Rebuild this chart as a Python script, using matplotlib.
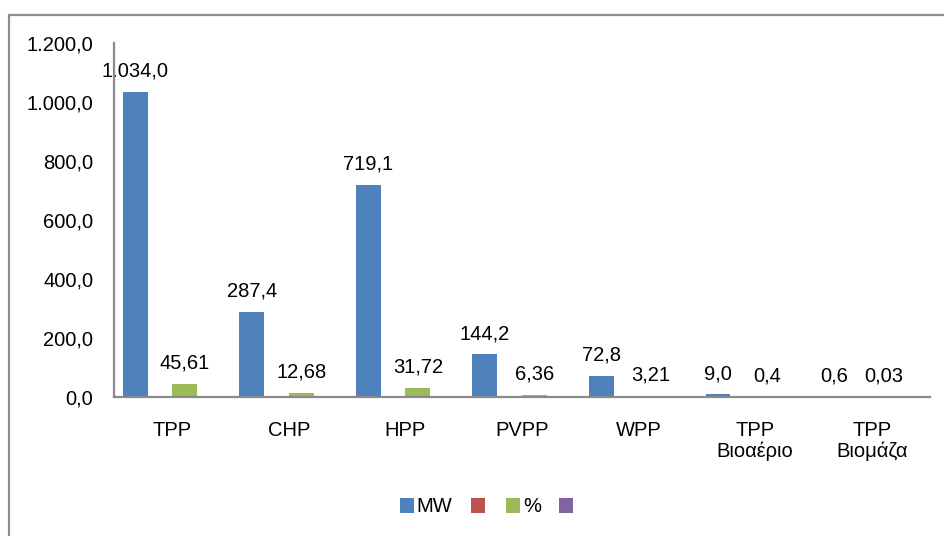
import matplotlib
matplotlib.use("Agg")
import matplotlib.pyplot as plt
from matplotlib.patches import Rectangle, Patch
import numpy as np

categories = ["TPP", "CHP", "HPP", "PVPP", "WPP", "TPP\nΒιοαέριο", "TPP\nΒιομάζα"]
mw_values = [1034.0, 287.4, 719.1, 144.2, 72.8, 9.0, 0.6]
pct_values = [45.61, 12.68, 31.72, 6.36, 3.21, 0.4, 0.03]
red_values = [0, 0, 0, 0, 0, 0, 0]
purple_values = [0, 0, 0, 0, 0, 0, 0]
series_names = ["MW", "", "%", ""]
colors = ["#4F81BD", "#C0504D", "#9BBB59", "#8064A2"]
yticks = [0, 200, 400, 600, 800, 1000, 1200]

plt.rcParams['font.family'] = ['Liberation Sans', 'DejaVu Sans']
FS = 14.5

W, H = 945, 536
fig = plt.figure(figsize=(W / 100, H / 100), dpi=100)
ax = fig.add_axes([114 / W, 1 - 397 / H, (930 - 114) / W, (397 - 43) / H])

x = np.arange(len(categories))
bw = 0.2125
series = [mw_values, red_values, pct_values, purple_values]
bars = []
for i, (vals, c) in enumerate(zip(series, colors)):
    off = (i - 1.5) * bw
    b = ax.bar(x + off, vals, width=bw, color=c, edgecolor='none', zorder=2)
    bars.append(b)

def fmt_mw(v):
    s = f"{v:,.1f}"
    return s.replace(",", "X").replace(".", ",").replace("X", ".")

def fmt_pct(v):
    return f"{v:g}".replace(".", ",")

for rect, v in zip(bars[0], mw_values):
    ax.annotate(fmt_mw(v), (rect.get_x() + rect.get_width() / 2, v),
                xytext=(0, 11), textcoords='offset points',
                ha='center', va='baseline', fontsize=FS, zorder=3)
for rect, v in zip(bars[2], pct_values):
    ax.annotate(fmt_pct(v), (rect.get_x() + rect.get_width() / 2, v),
                xytext=(0, 11), textcoords='offset points',
                ha='center', va='baseline', fontsize=FS, zorder=3)

ax.set_xlim(-0.5, len(categories) - 0.5)
ax.set_ylim(0, 1200)
ax.set_yticks(yticks)
ax.set_yticklabels([fmt_mw(v) for v in yticks], fontsize=FS)
ax.set_xticks(x)
ax.set_xticklabels(categories, fontsize=FS, linespacing=1.15)
ax.tick_params(axis='y', length=0, pad=15)
ax.tick_params(axis='x', length=0, pad=17)

for s in ['top', 'right']:
    ax.spines[s].set_visible(False)
for s in ['left', 'bottom']:
    ax.spines[s].set_color('#8a8a8a')
    ax.spines[s].set_linewidth(1.6)
    ax.spines[s].set_zorder(4)

handles = [Patch(facecolor=c, edgecolor='none') for c in colors]
fig.legend(handles, series_names, loc='center', ncol=4,
           bbox_to_anchor=(488 / W, 1 - 507 / H), frameon=False,
           fontsize=FS, handlelength=0.7, handleheight=0.7,
           handletextpad=0.15, columnspacing=0.9)

frame = Rectangle((9 / W, -0.2), 1.2, (1 - 15 / H) + 0.2, transform=fig.transFigure,
                  facecolor='none', edgecolor='#8c8c8c', linewidth=1.6, clip_on=False)
fig.patches.append(frame)

fig.savefig("out.png", dpi=100)
